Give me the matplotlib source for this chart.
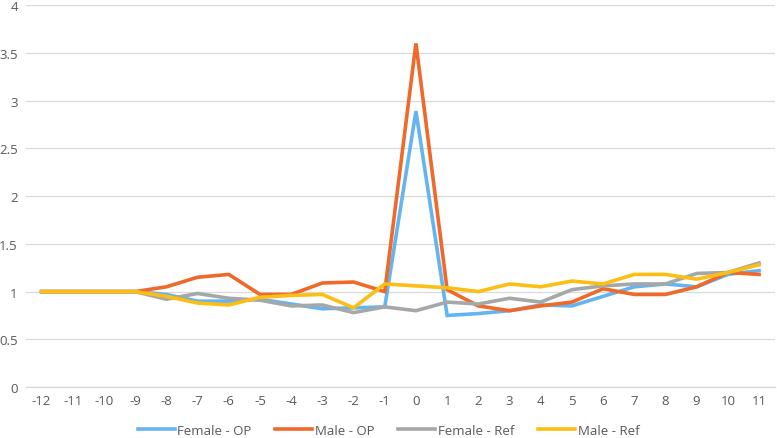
#!/usr/bin/env python3
"""Relative ratio by offset: OP vs Ref, female/male."""

import matplotlib

matplotlib.use("Agg")
import matplotlib.pyplot as plt
import numpy as np


offsets = list(range(-12, 12))

female_op = [1, 1, 1, 1, 0.97, 0.90, 0.90, 0.92, 0.87, 0.82, 0.83, 0.84,
             2.89, 0.75, 0.77, 0.80, 0.86, 0.85, 0.95, 1.05, 1.08, 1.05, 1.18, 1.22]
male_op = [1, 1, 1, 1, 1.05, 1.15, 1.18, 0.97, 0.97, 1.09, 1.10, 1.00,
           3.60, 1.02, 0.85, 0.80, 0.85, 0.89, 1.03, 0.97, 0.97, 1.05, 1.20, 1.18]
female_ref = [1, 1, 1, 1, 0.92, 0.98, 0.93, 0.91, 0.85, 0.86, 0.78, 0.84,
              0.80, 0.89, 0.87, 0.93, 0.89, 1.02, 1.06, 1.08, 1.08, 1.19, 1.20, 1.30]
male_ref = [1, 1, 1, 1, 0.95, 0.88, 0.86, 0.94, 0.96, 0.97, 0.83, 1.08,
            1.06, 1.04, 1.00, 1.08, 1.05, 1.11, 1.08, 1.18, 1.18, 1.13, 1.20, 1.28]

series = [
    ("Female - OP", female_op, "#64B4F2"),
    ("Male - OP", male_op, "#F0682A"),
    ("Female - Ref", female_ref, "#A5A8A8"),
    ("Male - Ref", male_ref, "#FDBE14"),
]


def main() -> None:
    plt.rcParams["font.family"] = ["Open Sans", "DejaVu Sans"]
    fig = plt.figure(figsize=(7.77, 4.39), dpi=100)
    ax = fig.add_axes([0.0335, 0.116, 0.9635, 0.870])

    x = np.arange(len(offsets))
    for label, values, color in series:
        ax.plot(x, values, color=color, linewidth=2.6, label=label,
                solid_joinstyle="miter")

    ax.set_xlim(-0.5, len(offsets) - 0.5)
    ax.set_ylim(0, 4)
    ax.set_yticks(np.arange(0, 4.01, 0.5))
    ax.set_yticklabels(["0", "0.5", "1", "1.5", "2", "2.5", "3", "3.5", "4"])
    ax.set_xticks(x)
    ax.set_xticklabels([str(v) for v in offsets])
    ax.tick_params(axis="both", length=0, labelsize=9.5, colors="#595959")
    ax.tick_params(axis="y", pad=6)
    ax.tick_params(axis="x", pad=5)
    ax.grid(axis="y", color="#D9D9D9", linewidth=0.9)
    ax.set_axisbelow(True)
    for side in ("top", "right", "left"):
        ax.spines[side].set_visible(False)
    ax.spines["bottom"].set_color("#D9D9D9")
    ax.spines["bottom"].set_linewidth(0.9)

    fig.legend(loc="center", bbox_to_anchor=(0.5, 0.017), ncol=4,
               frameon=False, fontsize=9.5, handlelength=2.8, handletextpad=0.2,
               columnspacing=1.8, labelcolor="#595959")
    fig.savefig("out.png", dpi=100)
    plt.close(fig)


if __name__ == "__main__":
    main()
